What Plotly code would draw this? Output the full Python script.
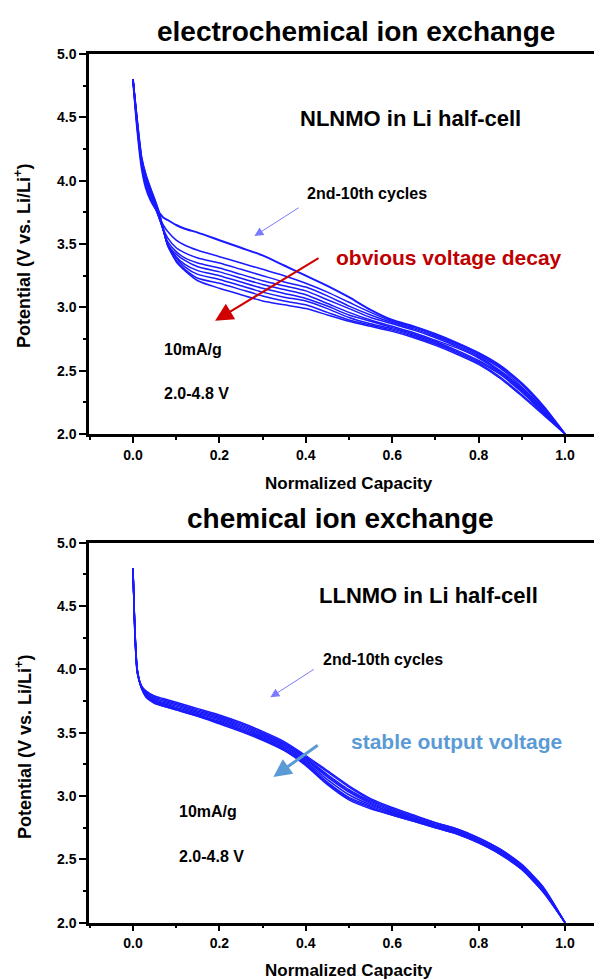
import plotly.graph_objects as go

# ---------------- data ----------------
cycle_names = ["2nd", "3rd", "4th", "5th", "6th", "7th", "8th", "9th", "10th"]

x_top = [0, 0.01, 0.02, 0.03, 0.04, 0.05, 0.06, 0.07, 0.08, 0.10, 0.12, 0.15, 0.20,
         0.25, 0.30, 0.35, 0.40, 0.45, 0.50, 0.55, 0.60, 0.65, 0.70, 0.75, 0.80,
         0.85, 0.90, 0.95, 1.00]

top_c2 = [4.80, 4.40, 4.10, 3.94, 3.85, 3.79, 3.75, 3.71, 3.69, 3.65, 3.62, 3.59, 3.53, 3.47, 3.41, 3.33, 3.25, 3.17, 3.08, 2.98, 2.90, 2.85, 2.79, 2.72, 2.64, 2.54, 2.40, 2.22, 2.00]
top_c3 = [4.80, 4.41, 4.12, 3.97, 3.87, 3.79, 3.72, 3.65, 3.60, 3.53, 3.49, 3.45, 3.40, 3.35, 3.30, 3.25, 3.19, 3.12, 3.04, 2.96, 2.89, 2.84, 2.78, 2.71, 2.63, 2.53, 2.39, 2.21, 2.00]
top_c4 = [4.80, 4.42, 4.13, 3.99, 3.89, 3.80, 3.71, 3.62, 3.55, 3.47, 3.43, 3.39, 3.35, 3.30, 3.25, 3.20, 3.16, 3.09, 3.01, 2.94, 2.88, 2.83, 2.77, 2.70, 2.62, 2.52, 2.37, 2.20, 2.00]
top_c5 = [4.80, 4.43, 4.14, 4.00, 3.90, 3.81, 3.71, 3.61, 3.52, 3.44, 3.39, 3.35, 3.31, 3.26, 3.21, 3.17, 3.13, 3.06, 2.99, 2.92, 2.87, 2.82, 2.76, 2.69, 2.61, 2.50, 2.36, 2.19, 2.00]
top_c6 = [4.80, 4.44, 4.15, 4.01, 3.91, 3.82, 3.72, 3.61, 3.50, 3.42, 3.37, 3.32, 3.28, 3.23, 3.18, 3.14, 3.10, 3.03, 2.96, 2.90, 2.85, 2.80, 2.74, 2.68, 2.60, 2.49, 2.35, 2.18, 2.00]
top_c7 = [4.80, 4.45, 4.16, 4.02, 3.92, 3.83, 3.73, 3.61, 3.50, 3.40, 3.34, 3.29, 3.25, 3.20, 3.15, 3.11, 3.07, 3.01, 2.94, 2.89, 2.84, 2.79, 2.73, 2.66, 2.58, 2.48, 2.34, 2.17, 2.00]
top_c8 = [4.80, 4.46, 4.17, 4.03, 3.93, 3.84, 3.74, 3.62, 3.50, 3.39, 3.32, 3.26, 3.22, 3.17, 3.12, 3.08, 3.05, 2.99, 2.92, 2.87, 2.83, 2.78, 2.72, 2.65, 2.57, 2.47, 2.33, 2.17, 2.00]
top_c9 = [4.80, 4.47, 4.18, 4.04, 3.94, 3.85, 3.75, 3.62, 3.49, 3.37, 3.30, 3.23, 3.19, 3.14, 3.09, 3.05, 3.02, 2.96, 2.90, 2.86, 2.82, 2.77, 2.71, 2.64, 2.56, 2.45, 2.31, 2.16, 2.00]
top_c10 = [4.80, 4.48, 4.19, 4.05, 3.95, 3.86, 3.76, 3.62, 3.49, 3.36, 3.29, 3.21, 3.15, 3.10, 3.05, 3.02, 2.99, 2.94, 2.89, 2.85, 2.81, 2.76, 2.70, 2.63, 2.55, 2.44, 2.30, 2.15, 2.00]

x_bot = [0, 0.005, 0.01, 0.02, 0.03, 0.05, 0.07, 0.10, 0.15, 0.20, 0.25, 0.30, 0.35,
         0.40, 0.45, 0.50, 0.55, 0.60, 0.65, 0.70, 0.75, 0.80, 0.85, 0.90, 0.95, 1.00]

bot_c2 = [4.80, 4.22, 3.97, 3.87, 3.83, 3.79, 3.77, 3.74, 3.69, 3.64, 3.58, 3.51, 3.43, 3.32, 3.20, 3.08, 2.98, 2.91, 2.85, 2.79, 2.74, 2.67, 2.58, 2.46, 2.28, 2.00]
bot_c3 = [4.80, 4.23, 3.97, 3.86, 3.82, 3.78, 3.76, 3.73, 3.68, 3.63, 3.57, 3.50, 3.42, 3.31, 3.19, 3.07, 2.97, 2.90, 2.84, 2.79, 2.74, 2.67, 2.58, 2.45, 2.27, 2.00]
bot_c4 = [4.80, 4.24, 3.98, 3.86, 3.81, 3.77, 3.75, 3.72, 3.67, 3.62, 3.56, 3.49, 3.41, 3.30, 3.17, 3.05, 2.96, 2.89, 2.83, 2.78, 2.73, 2.66, 2.57, 2.45, 2.27, 2.00]
bot_c5 = [4.80, 4.25, 3.98, 3.86, 3.81, 3.76, 3.74, 3.71, 3.66, 3.61, 3.55, 3.48, 3.40, 3.29, 3.16, 3.04, 2.95, 2.88, 2.82, 2.77, 2.72, 2.65, 2.56, 2.44, 2.26, 2.00]
bot_c6 = [4.80, 4.26, 3.99, 3.86, 3.80, 3.75, 3.73, 3.70, 3.65, 3.60, 3.54, 3.47, 3.39, 3.28, 3.15, 3.03, 2.94, 2.87, 2.82, 2.77, 2.72, 2.65, 2.56, 2.44, 2.26, 2.00]
bot_c7 = [4.80, 4.26, 3.99, 3.85, 3.80, 3.75, 3.72, 3.69, 3.64, 3.59, 3.53, 3.46, 3.38, 3.27, 3.13, 3.01, 2.93, 2.87, 2.81, 2.76, 2.71, 2.64, 2.55, 2.43, 2.25, 2.00]
bot_c8 = [4.80, 4.27, 3.99, 3.85, 3.79, 3.74, 3.72, 3.69, 3.64, 3.58, 3.52, 3.45, 3.37, 3.26, 3.11, 2.99, 2.92, 2.86, 2.81, 2.76, 2.71, 2.64, 2.55, 2.43, 2.25, 2.00]
bot_c9 = [4.80, 4.27, 4.00, 3.85, 3.79, 3.74, 3.71, 3.68, 3.63, 3.58, 3.52, 3.45, 3.36, 3.25, 3.10, 2.98, 2.91, 2.85, 2.80, 2.75, 2.70, 2.63, 2.54, 2.42, 2.24, 2.00]
bot_c10 = [4.80, 4.28, 4.00, 3.85, 3.78, 3.73, 3.71, 3.68, 3.63, 3.57, 3.51, 3.44, 3.36, 3.24, 3.09, 2.97, 2.90, 2.85, 2.80, 2.75, 2.70, 2.63, 2.54, 2.42, 2.24, 2.00]

top_series = [top_c2, top_c3, top_c4, top_c5, top_c6, top_c7, top_c8, top_c9, top_c10]
bot_series = [bot_c2, bot_c3, bot_c4, bot_c5, bot_c6, bot_c7, bot_c8, bot_c9, bot_c10]

x_ticks = [0.0, 0.2, 0.4, 0.6, 0.8, 1.0]
x_tick_labels = ["0.0", "0.2", "0.4", "0.6", "0.8", "1.0"]
y_ticks = [2.0, 2.5, 3.0, 3.5, 4.0, 4.5, 5.0]
y_tick_labels = ["2.0", "2.5", "3.0", "3.5", "4.0", "4.5", "5.0"]

# ---------------- figure ----------------
OFF = 8                      # the page body margin shifts the figure by 8 px
W, H = 602 - OFF, 980 - OFF
LINE_BLUE = "#1a1aff"
BOLD = "Liberation Sans, Arial, sans-serif"

def px(xp):
    return (xp - OFF) / W

def py(yp):
    return 1 - (yp - OFF) / H

fig = go.Figure()
for i, ys in enumerate(top_series):
    fig.add_trace(go.Scatter(x=x_top, y=ys, mode="lines", name=cycle_names[i],
                             line=dict(color=LINE_BLUE, width=2.0 if i == 0 else 1.5,
                                       shape="spline", smoothing=0.6),
                             xaxis="x", yaxis="y", showlegend=False))
for i, ys in enumerate(bot_series):
    fig.add_trace(go.Scatter(x=x_bot, y=ys, mode="lines", name=cycle_names[i],
                             line=dict(color=LINE_BLUE, width=1.5,
                                       shape="spline", smoothing=0.6),
                             xaxis="x2", yaxis="y2", showlegend=False))

xr = [-0.1018, 1.0856]
axis_common = dict(showgrid=False, zeroline=False, showline=True, linecolor="black",
                   linewidth=2.5, ticks="outside", tickwidth=2, tickcolor="black",
                   automargin=False,
                   tickfont=dict(family=BOLD, size=14, color="black", weight="bold"))

def xaxis_def(anchor):
    return dict(axis_common, range=xr, anchor=anchor, domain=[px(89), 1.0],
                tickvals=x_ticks, ticktext=x_tick_labels, ticklen=6, mirror=True,
                minor=dict(dtick=0.1, tick0=0, ticks="outside", ticklen=3,
                           tickwidth=2, tickcolor="black"))

def yaxis_def(anchor, top_px, bot_px):
    return dict(axis_common, range=[2.0, 5.0], anchor=anchor,
                domain=[py(bot_px), py(top_px)],
                tickvals=y_ticks, ticktext=y_tick_labels, ticklen=7,
                minor=dict(dtick=0.25, tick0=2.0, ticks="outside", ticklen=3,
                           tickwidth=2, tickcolor="black"))

fig.update_layout(
    width=W, height=H,
    margin=dict(l=0, r=0, t=0, b=0, autoexpand=False),
    paper_bgcolor="white", plot_bgcolor="white",
    xaxis=xaxis_def("y"),
    yaxis=yaxis_def("x", 54, 434),
    xaxis2=xaxis_def("y2"),
    yaxis2=yaxis_def("x2", 542.7, 922.7),
)

def txt(text, x, y, size, xref, yref, color="black", xanchor="center"):
    fig.add_annotation(text=text, x=x, y=y, xref=xref, yref=yref, showarrow=False,
                       xanchor=xanchor, yanchor="middle",
                       font=dict(family=BOLD, size=size, color=color, weight="bold"))

def arrow(x, y, ax, ay, xref, yref, color, width, size):
    fig.add_annotation(text="", x=x, y=y, ax=ax, ay=ay, xref=xref, yref=yref,
                       axref=xref, ayref=yref, showarrow=True, arrowhead=2,
                       arrowsize=size, arrowwidth=width, arrowcolor=color)

# titles and axis titles (paper)
txt("electrochemical ion exchange", px(356), py(31), 28, "paper", "paper")
txt("chemical ion exchange", px(340), py(518), 28, "paper", "paper")
txt("Normalized Capacity", px(349), py(483), 17, "paper", "paper")
txt("Normalized Capacity", px(349), py(970), 17, "paper", "paper")
for cy in (256, 747):
    fig.add_annotation(text="Potential (V vs. Li/Li<sup>+</sup>)", x=px(23), y=py(cy),
                       xref="paper", yref="paper", showarrow=False, textangle=-90,
                       xanchor="center", yanchor="middle",
                       font=dict(family=BOLD, size=18, color="black", weight="bold"))

# top panel text
txt("NLNMO in Li half-cell", 0.642, 4.49, 22, "x", "y")
txt("2nd-10th cycles", 0.541, 3.90, 16, "x", "y")
txt("obvious voltage decay", 0.732, 3.39, 21, "x", "y", color="#c00000")
txt("10mA/g", 0.066, 2.67, 16, "x", "y", xanchor="left")
txt("2.0-4.8 V", 0.066, 2.316, 16, "x", "y", xanchor="left")
arrow(0.281, 3.563, 0.387, 3.794, "x", "y", "#7b7bff", 1, 1.8)
arrow(0.190, 2.894, 0.433, 3.395, "x", "y", "#d00000", 2, 1.8)

# bottom panel text
txt("LLNMO in Li half-cell", 0.685, 4.58, 22, "x2", "y2")
txt("2nd-10th cycles", 0.579, 4.08, 16, "x2", "y2")
txt("stable output voltage", 0.748, 3.434, 21, "x2", "y2", color="#5b9bd5")
txt("10mA/g", 0.102, 2.874, 16, "x2", "y2", xanchor="left")
txt("2.0-4.8 V", 0.102, 2.52, 16, "x2", "y2", xanchor="left")
arrow(0.318, 3.779, 0.422, 4.008, "x2", "y2", "#7b7bff", 1, 1.8)
arrow(0.325, 3.150, 0.431, 3.410, "x2", "y2", "#5b9bd5", 3, 1.2)

fig.write_html("out.html")
